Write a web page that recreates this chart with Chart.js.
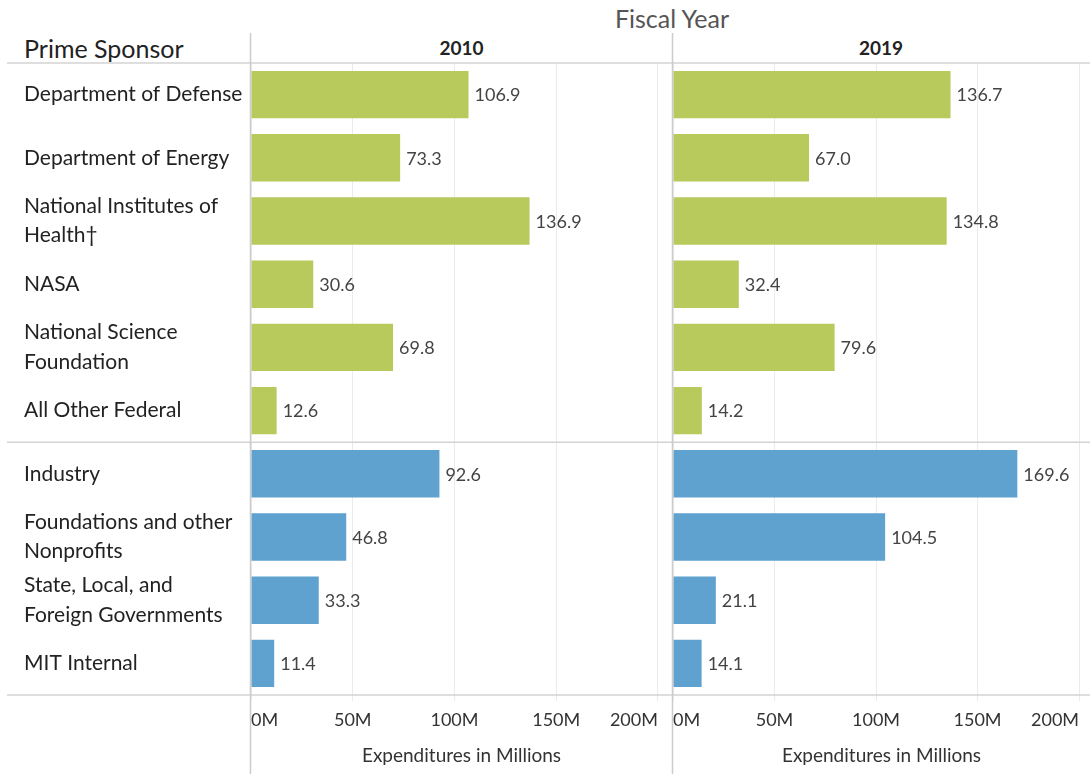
<!DOCTYPE html>
<html>
<head>
<meta charset="utf-8">
<script src="https://cdn.jsdelivr.net/npm/chart.js@4.4.1/dist/chart.umd.min.js"></script>
<style>
  body { margin: 0; background: #fff; font-family: Lato, sans-serif; }
  #wrap { position: relative; width: 1090px; height: 774px; overflow: hidden; }
  canvas { position: absolute; top: 0; }
  .hdr { position: absolute; white-space: nowrap; color: #222; }
</style>
</head>
<body>
<div id="wrap">
  <div class="hdr" style="left:572px;width:200px;top:5px;font-size:25px;line-height:26px;text-align:center;color:#555;">Fiscal Year</div>
  <div class="hdr" style="left:24px;top:35px;font-size:25px;line-height:26px;">Prime Sponsor</div>
  <div class="hdr" style="left:251px;width:421px;top:38px;font-size:19px;line-height:20px;text-align:center;font-weight:bold;">2010</div>
  <div class="hdr" style="left:672px;width:418px;top:38px;font-size:19px;line-height:20px;text-align:center;font-weight:bold;">2019</div>
  <canvas id="left" width="672" height="774" style="left:0;width:672px;height:774px;"></canvas>
  <canvas id="right" width="425" height="774" style="left:665px;width:425px;height:774px;"></canvas>
</div>
<script>
const categories = [
  "Department of Defense",
  "Department of Energy",
  ["National Institutes of", "Health\u2020"],
  "NASA",
  ["National Science", "Foundation"],
  "All Other Federal",
  "Industry",
  ["Foundations and other", "Nonprofits"],
  ["State, Local, and", "Foreign Governments"],
  "MIT Internal"
];
const values2010 = [106.9, 73.3, 136.9, 30.6, 69.8, 12.6, 92.6, 46.8, 33.3, 11.4];
const values2019 = [136.7, 67.0, 134.8, 32.4, 79.6, 14.2, 169.6, 104.5, 21.1, 14.1];
const tickValues = [0, 50, 100, 150, 200];
const federalCount = 6;

const green = "#b9ca5d";
const blue = "#5fa1cf";
const barColors = categories.map((c, i) => i < federalCount ? green : blue);

// lines that Tableau draws round the panes
const panelLines = {
  id: "panelLines",
  afterDraw(chart, args, opts) {
    const ctx = chart.ctx;
    const a = chart.chartArea;
    const y = chart.scales.y;
    const sepY = (y.getPixelForValue(federalCount - 1) + y.getPixelForValue(federalCount)) / 2;
    ctx.save();
    ctx.strokeStyle = "#d3d3d3";
    ctx.lineWidth = 1.5;
    [a.top, sepY, a.bottom].forEach(function (py) {
      ctx.beginPath();
      ctx.moveTo(opts.lineLeft, py);
      ctx.lineTo(chart.width, py);
      ctx.stroke();
    });
    ctx.strokeStyle = "#cccccc";
    ctx.beginPath();
    ctx.moveTo(a.left - 0.5, 33);
    ctx.lineTo(a.left - 0.5, chart.height);
    ctx.stroke();
    ctx.restore();
  }
};

const valueLabels = {
  id: "valueLabels",
  afterDatasetsDraw(chart) {
    const ctx = chart.ctx;
    const ds = chart.data.datasets[0];
    ctx.save();
    ctx.font = "18px Lato, sans-serif";
    ctx.fillStyle = "#444";
    ctx.textBaseline = "middle";
    ctx.textAlign = "left";
    chart.getDatasetMeta(0).data.forEach(function (bar, i) {
      ctx.fillText(ds.data[i].toFixed(1), bar.x + 6, bar.y + 1);
    });
    ctx.restore();
  }
};

function makeChart(id, values, max, showLabels, padLeft, lineLeft) {
  return new Chart(document.getElementById(id), {
    type: "bar",
    data: {
      labels: categories,
      datasets: [{
        data: values,
        backgroundColor: barColors,
        borderWidth: 0,
        barPercentage: 0.75,
        categoryPercentage: 1.0
      }]
    },
    options: {
      indexAxis: "y",
      responsive: false,
      animation: false,
      layout: { padding: { left: padLeft, top: 63, right: 0, bottom: 0 } },
      plugins: {
        legend: { display: false },
        tooltip: { enabled: false },
        panelLines: { lineLeft: lineLeft }
      },
      scales: {
        x: {
          min: 0,
          max: max,
          afterBuildTicks: function (scale) {
            scale.ticks = tickValues.map(v => ({ value: v }));
          },
          afterFit: function (scale) { scale.height = 79; },
          grid: { color: "#ebebeb", lineWidth: 1, tickLength: 6 },
          border: { display: false },
          ticks: {
            align: "inner",
            padding: 8,
            maxRotation: 0,
            color: "#333",
            font: { family: "Lato, sans-serif", size: 18 },
            callback: v => v + "M"
          },
          title: {
            display: true,
            text: "Expenditures in Millions",
            color: "#333",
            font: { family: "Lato, sans-serif", size: 19 },
            padding: { top: 0, bottom: 7 }
          }
        },
        y: {
          display: showLabels,
          afterFit: function (scale) { if (showLabels) scale.width = 227; },
          grid: { display: false },
          border: { display: false },
          ticks: {
            crossAlign: "far",
            color: "#222",
            font: { family: "Lato, sans-serif", size: 21, lineHeight: 1.4 }
          }
        }
      }
    },
    plugins: [panelLines, valueLabels]
  });
}

makeChart("left", values2010, 206.9, true, 24, 7);
// the tick padding keeps 8px on the left, so this canvas starts 7px early
makeChart("right", values2019, 205.4, false, 0, 7);
</script>
</body>
</html>
